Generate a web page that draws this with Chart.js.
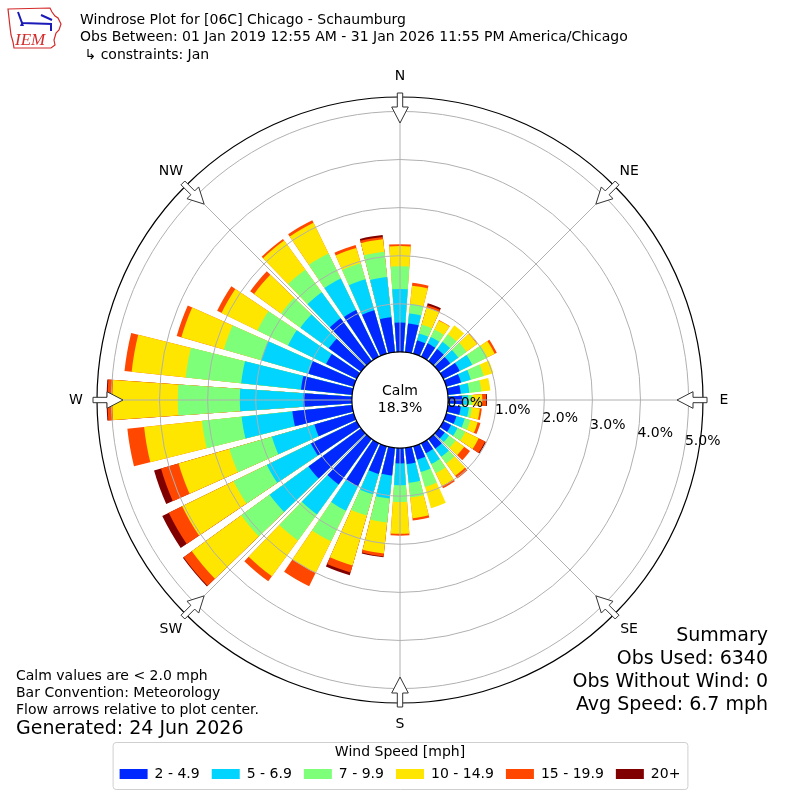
<!DOCTYPE html>
<html>
<head>
<meta charset="utf-8">
<title>Windrose Plot for [06C] Chicago - Schaumburg</title>
<script src="https://cdn.jsdelivr.net/npm/chart.js@4.4.1/dist/chart.umd.min.js"></script>
<style>
  html, body { margin: 0; padding: 0; background: #fff; }
  canvas { display: block; }
</style>
</head>
<body>
<canvas id="rose" width="800" height="800"></canvas>
<script>
// wind directions (deg, where the wind blows from) and speed bins
const directions = [0, 10, 20, 30, 40, 50, 60, 70, 80, 90, 100, 110, 120, 130, 140, 150, 160, 170,
  180, 190, 200, 210, 220, 230, 240, 250, 260, 270, 280, 290, 300, 310, 320, 330, 340, 350];
const speedBins = ['2 - 4.9', '5 - 6.9', '7 - 9.9', '10 - 14.9', '15 - 19.9', '20+'];
const binColors = ['rgb(0,40,255)', 'rgb(0,212,255)', 'rgb(125,255,122)', 'rgb(255,230,0)', 'rgb(255,71,0)', 'rgb(128,0,0)'];

// percent of observations per direction, one array per speed bin
const pct2to5 = [0.61, 0.60, 0.29, 0.31, 0.31, 0.29, 0.38, 0.32, 0.27, 0.29, 0.27, 0.22, 0.18, 0.15, 0.25, 0.23, 0.29, 0.34,
  0.32, 0.58, 0.60, 1.00, 1.17, 1.35, 1.06, 0.85, 1.25, 1.01, 1.07, 0.98, 0.71, 0.83, 1.10, 1.08, 0.94, 0.73];
const pct5to7 = [0.70, 0.21, 0.15, 0.15, 0.19, 0.21, 0.29, 0.21, 0.18, 0.13, 0.17, 0.18, 0.15, 0.11, 0.21, 0.25, 0.27, 0.39,
  0.45, 0.48, 0.44, 0.56, 0.77, 1.00, 1.02, 0.92, 1.06, 1.32, 1.25, 1.02, 0.88, 0.73, 0.67, 0.73, 0.67, 0.84];
const pct7to10 = [0.47, 0.20, 0.19, 0.17, 0.19, 0.21, 0.35, 0.28, 0.25, 0.08, 0.06, 0.12, 0.18, 0.17, 0.17, 0.21, 0.32, 0.31,
  0.35, 0.50, 0.46, 0.71, 0.67, 0.73, 0.77, 0.92, 0.83, 1.29, 1.16, 0.81, 0.71, 0.50, 0.58, 0.58, 0.35, 0.53];
const pct10to15 = [0.42, 0.38, 0.37, 0.21, 0.23, 0.27, 0.17, 0.21, 0.19, 0.21, 0.17, 0.16, 0.31, 0.22, 0.32, 0.30, 0.46, 0.43,
  0.66, 0.65, 1.08, 0.73, 0.92, 1.27, 1.19, 1.10, 1.21, 1.36, 1.13, 0.92, 0.83, 0.69, 0.75, 0.71, 0.33, 0.26];
const pct15to20 = [0.04, 0.06, 0.05, 0.01, 0, 0.01, 0.05, 0, 0, 0.08, 0.04, 0.06, 0.15, 0.15, 0.07, 0.05, 0, 0.05,
  0.04, 0.06, 0.15, 0.31, 0.13, 0.21, 0.31, 0.38, 0.35, 0.10, 0.15, 0.10, 0.10, 0.10, 0.04, 0.06, 0.06, 0.05];
const pct20plus = [0, 0, 0.04, 0, 0, 0, 0, 0, 0, 0.02, 0, 0, 0.02, 0, 0, 0, 0, 0,
  0, 0.02, 0.06, 0, 0, 0.02, 0.15, 0.15, 0, 0.02, 0, 0, 0, 0, 0, 0, 0, 0.04];

const calmPct = 18.3;
const ringTicks = [-1, 0, 1, 2, 3, 4, 5, 5.3];   // -1 leaves room for the calm circle, 5.3 = outer edge
const ringLabels = [0, 1, 2, 3, 4, 5];
const compassNames = ['N', 'NE', 'E', 'SE', 'S', 'SW', 'W', 'NW'];

const headerLines = [
  'Windrose Plot for [06C] Chicago - Schaumburg',
  'Obs Between: 01 Jan 2019 12:55 AM - 31 Jan 2026 11:55 PM America/Chicago',
  ' \u21b3 constraints: Jan'
];
const noteLines = ['Calm values are < 2.0 mph', 'Bar Convention: Meteorology', 'Flow arrows relative to plot center.'];
const generatedText = 'Generated: 24 Jun 2026';
const summaryLines = ['Summary', 'Obs Used: 6340', 'Obs Without Wind: 0', 'Avg Speed: 6.7 mph'];

const FONT = '"DejaVu Sans", "Noto Sans", sans-serif';
const BAR_WIDTH = 8;     // degrees, bars are 80% of the 10 degree sector
const SECTOR = 10;

// polar slots: gap, bar 10, gap, bar 20 ... bar 350, gap, bar 0 (wraps over north)
const slotDir = [-1];
const slotAngle = [SECTOR - BAR_WIDTH / 2];
for (let d = 1; d < directions.length; d++) {
  slotDir.push(d, -1);
  slotAngle.push(BAR_WIDTH, SECTOR - BAR_WIDTH);
}
slotDir.push(0);
slotAngle.push(BAR_WIDTH);

const binValues = [pct2to5, pct5to7, pct7to10, pct10to15, pct15to20, pct20plus];
const cumulative = binValues.map((_, k) =>
  directions.map((_, d) => binValues.slice(0, k + 1).reduce((s, arr) => s + arr[d], 0)));

const datasets = speedBins.map((label, k) => ({
  label,
  data: slotDir.map(d => (d < 0 || binValues[k][d] <= 0) ? 0 : +cumulative[k][d].toFixed(3)),
  backgroundColor: c => c.raw > 0 ? binColors[k] : 'rgba(0,0,0,0)',
  borderWidth: 0,
  angle: c => slotAngle[c.dataIndex]
}));

function drawLogo(ctx) {
  ctx.save();
  ctx.strokeStyle = '#d42a2a';
  ctx.lineWidth = 1.2;
  ctx.beginPath();
  [[8, 9], [50, 8], [52, 12], [55, 16], [58, 18], [61, 24], [59, 30], [56, 33], [54, 40], [55, 45], [51, 48],
   [14, 48], [13, 42], [11, 35], [10, 27], [9, 18]].forEach((p, i) => i ? ctx.lineTo(p[0], p[1]) : ctx.moveTo(p[0], p[1]));
  ctx.closePath();
  ctx.stroke();
  ctx.strokeStyle = '#1a1ab8';
  ctx.lineWidth = 2;
  ctx.beginPath();
  ctx.moveTo(22, 23); ctx.lineTo(52, 24);
  ctx.moveTo(18, 12); ctx.lineTo(22, 23);
  ctx.moveTo(41, 15); ctx.lineTo(52, 20);
  ctx.moveTo(51, 24); ctx.lineTo(51, 31);
  ctx.stroke();
  ctx.fillStyle = '#1a1ab8';
  ctx.beginPath(); ctx.moveTo(20, 26); ctx.lineTo(24, 26); ctx.lineTo(22, 21); ctx.fill();
  ctx.fillStyle = '#d42a2a';
  ctx.font = 'italic 17px "Liberation Serif", serif';
  ctx.textAlign = 'left';
  ctx.textBaseline = 'alphabetic';
  ctx.fillText('IEM', 15, 45);
  ctx.restore();
}

const roseDecor = {
  id: 'roseDecor',
  afterDraw(chart) {
    const ctx = chart.ctx;
    const r = chart.scales.r;
    const cx = r.xCenter, cy = r.yCenter;
    const r0 = r.getDistanceFromCenterForValue(0);
    const rMax = r.getDistanceFromCenterForValue(r.max);
    ctx.save();

    // calm circle
    ctx.beginPath();
    ctx.arc(cx, cy, r0, 0, Math.PI * 2);
    ctx.fillStyle = '#fff';
    ctx.fill();
    ctx.lineWidth = 1.2;
    ctx.strokeStyle = '#000';
    ctx.stroke();
    ctx.fillStyle = '#000';
    ctx.font = '14px ' + FONT;
    ctx.textAlign = 'center';
    ctx.textBaseline = 'middle';
    ctx.fillText('Calm', cx, cy - 9);
    ctx.fillText(calmPct.toFixed(1) + '%', cx, cy + 8);

    // ring labels
    const phi = 9.1 * Math.PI / 180;
    ctx.textAlign = 'left';
    ctx.textBaseline = 'alphabetic';
    ringLabels.forEach(v => {
      const d = r.getDistanceFromCenterForValue(v);
      ctx.fillText(v.toFixed(1) + '%', cx + d * Math.cos(phi), cy + d * Math.sin(phi) - 1);
    });

    // flow arrows and compass names
    const arrow = [[-26, 0], [-10, 8.3], [-10, 2.7], [4, 2.7], [4, -2.7], [-10, -2.7], [-10, -8.3]];
    compassNames.forEach((name, i) => {
      const a = i * 45 * Math.PI / 180;
      const ux = Math.sin(a), uy = -Math.cos(a);
      const px = Math.cos(a), py = Math.sin(a);
      ctx.beginPath();
      arrow.forEach(([dr, w], j) => {
        const x = cx + ux * (rMax + dr) + px * w;
        const y = cy + uy * (rMax + dr) + py * w;
        j ? ctx.lineTo(x, y) : ctx.moveTo(x, y);
      });
      ctx.closePath();
      ctx.fillStyle = '#fff';
      ctx.fill();
      ctx.lineWidth = 1;
      ctx.strokeStyle = '#333';
      ctx.stroke();
      ctx.fillStyle = '#000';
      ctx.textAlign = 'center';
      ctx.textBaseline = 'middle';
      ctx.fillText(name, cx + ux * (rMax + 21), cy + uy * (rMax + 21));
    });

    // legend frame
    const lg = chart.legend;
    const pad = lg.options.labels.padding;
    const span = lg.lineWidths[0] - pad;
    const mid = (lg.left + lg.right) / 2;
    const fx = mid - span / 2 - 7, fw = span + 14;
    const fy = lg.top + 39, fh = 47;
    ctx.beginPath();
    ctx.roundRect(fx + 0.5, fy + 0.5, fw, fh, 3);
    ctx.lineWidth = 1;
    ctx.strokeStyle = '#cfcfcf';
    ctx.stroke();

    // header
    ctx.fillStyle = '#000';
    ctx.textAlign = 'left';
    ctx.textBaseline = 'middle';
    ctx.font = '14px ' + FONT;
    headerLines.forEach((t, i) => ctx.fillText(t, 80, 20 + i * 17.5));

    // notes
    noteLines.forEach((t, i) => ctx.fillText(t, 16, 676 + i * 17));
    ctx.font = '19px ' + FONT;
    ctx.fillText(generatedText, 16, 729);

    // summary
    ctx.textAlign = 'right';
    summaryLines.forEach((t, i) => ctx.fillText(t, 768, 636 + i * 23));

    drawLogo(ctx);
    ctx.restore();
  }
};

Chart.defaults.font.family = FONT;
Chart.defaults.color = '#000';

new Chart(document.getElementById('rose'), {
  type: 'polarArea',
  data: {
    labels: slotDir.map(d => d < 0 ? '' : directions[d] + '\u00b0'),
    datasets
  },
  options: {
    responsive: false,
    animation: false,
    layout: { padding: { top: 97, left: 97, right: 97, bottom: 9 } },
    scales: {
      r: {
        min: -1,
        max: 5.3,
        startAngle: 0,
        afterBuildTicks: scale => { scale.ticks = ringTicks.map(v => ({ value: v })); },
        ticks: { display: false },
        pointLabels: { display: false },
        grid: {
          z: 1,
          circular: true,
          color: c => c.tick && c.tick.value > 5.01 ? '#000' : '#b0b0b0',
          lineWidth: c => !c.tick || c.tick.value <= 0 ? 0 : (c.tick.value > 5.01 ? 1.2 : 1)
        },
        angleLines: {
          display: true,
          color: '#b0b0b0',
          lineWidth: c => c.index % 9 === 0 ? 1 : 0
        }
      }
    },
    plugins: {
      tooltip: { enabled: false },
      legend: {
        position: 'bottom',
        title: {
          display: true,
          text: 'Wind Speed [mph]',
          font: { size: 14 },
          padding: { top: 42, bottom: -6.8 }
        },
        labels: {
          font: { size: 14 },
          boxWidth: 28,
          boxHeight: 10,
          padding: 12,
          generateLabels: chart => chart.data.datasets.map((ds, i) => ({
            text: ds.label,
            fillStyle: binColors[i],
            strokeStyle: binColors[i],
            lineWidth: 0,
            hidden: false,
            datasetIndex: i,
            fontColor: '#000'
          }))
        }
      }
    }
  },
  plugins: [roseDecor]
});
</script>
</body>
</html>
